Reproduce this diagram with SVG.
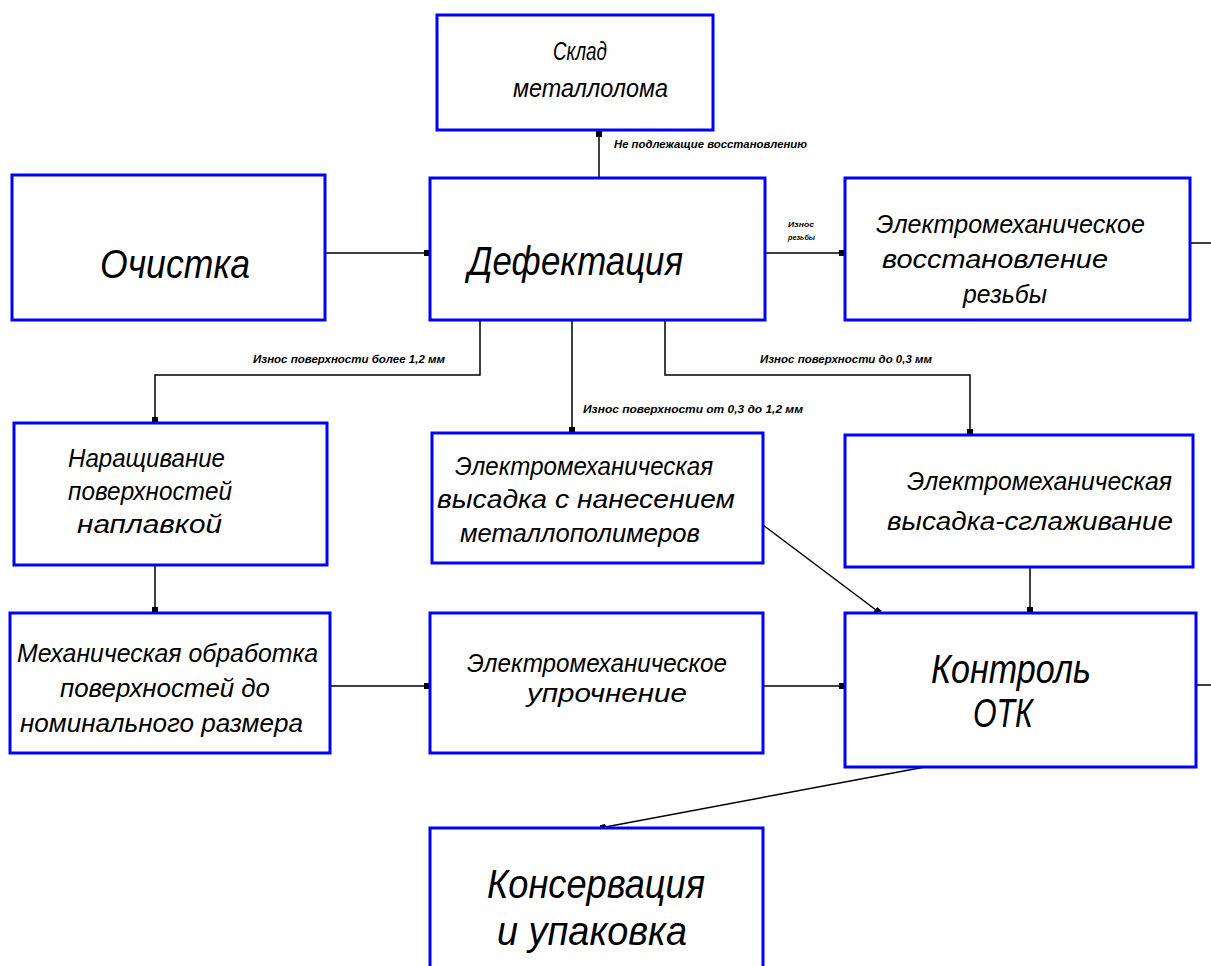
<svg xmlns="http://www.w3.org/2000/svg" width="1211" height="966" viewBox="0 0 1211 966">
<style>
.box{fill:#fff;stroke:#0000ff;stroke-width:3}
.t{font-family:"Liberation Sans",Arial,sans-serif;font-style:italic;fill:#000}
.m{font-size:25px}
.b{font-size:40px}
.s{font-size:10px;font-weight:bold}
.c{fill:none;stroke:#000;stroke-width:1.5}
</style>
<defs>
<marker id="dot" viewBox="0 0 6 6" refX="6" refY="3" markerWidth="6" markerHeight="6" markerUnits="userSpaceOnUse" orient="auto">
<rect x="0" y="0" width="6" height="6" fill="#000"/>
</marker>
</defs>
<rect width="1211" height="966" fill="#fff"/>
<g id="connectors">
<path class="c" d="M325 253 H430" marker-end="url(#dot)"/>
<path class="c" d="M599 178 V131" marker-end="url(#dot)"/>
<path class="c" d="M765 253 H845" marker-end="url(#dot)"/>
<path class="c" d="M480 320 V375 H155 V423" marker-end="url(#dot)"/>
<path class="c" d="M572 320 V433" marker-end="url(#dot)"/>
<path class="c" d="M665 320 V375 H970 V435" marker-end="url(#dot)"/>
<path class="c" d="M155 565 V613" marker-end="url(#dot)"/>
<path class="c" d="M330 686 H430" marker-end="url(#dot)"/>
<path class="c" d="M763 686 H845" marker-end="url(#dot)"/>
<path class="c" d="M763 525 L880 613" marker-end="url(#dot)"/>
<path class="c" d="M1030 567 V613" marker-end="url(#dot)"/>
<path class="c" d="M925 767 L600 828" marker-end="url(#dot)"/>
<path class="c" d="M1190 243 H1211"/>
<path class="c" d="M1196 685 H1211"/>
<text class="t s" x="614" y="148" textLength="193" lengthAdjust="spacingAndGlyphs">Не подлежащие восстановлению</text>
<text class="t s" x="788" y="227" font-size="8" style="font-size:8px" textLength="26" lengthAdjust="spacingAndGlyphs">Износ</text>
<text class="t s" x="788" y="240" style="font-size:8px" textLength="27" lengthAdjust="spacingAndGlyphs">резьбы</text>
<text class="t s" x="253" y="363" textLength="192" lengthAdjust="spacingAndGlyphs">Износ поверхности более 1,2 мм</text>
<text class="t s" x="583" y="413" textLength="220" lengthAdjust="spacingAndGlyphs">Износ поверхности от 0,3 до 1,2 мм</text>
<text class="t s" x="760" y="363" textLength="172" lengthAdjust="spacingAndGlyphs">Износ поверхности до 0,3 мм</text>
</g>
<g id="sklad">
<rect class="box" x="437" y="15" width="276" height="115"/>
<text class="t m" x="553" y="60" textLength="54" lengthAdjust="spacingAndGlyphs">Склад</text>
<text class="t m" x="513" y="97" textLength="155" lengthAdjust="spacingAndGlyphs">металлолома</text>
</g>
<g id="ochistka">
<rect class="box" x="12" y="175" width="313" height="145"/>
<text class="t b" x="100" y="278" textLength="150" lengthAdjust="spacingAndGlyphs">Очистка</text>
</g>
<g id="defektaciya">
<rect class="box" x="430" y="178" width="335" height="142"/>
<text class="t b" x="468" y="275" textLength="215" lengthAdjust="spacingAndGlyphs">Дефектация</text>
</g>
<g id="rezba">
<rect class="box" x="845" y="178" width="345" height="142"/>
<text class="t m" x="876" y="233" textLength="269" lengthAdjust="spacingAndGlyphs">Электромеханическое</text>
<text class="t m" x="882" y="268" textLength="226" lengthAdjust="spacingAndGlyphs">восстановление</text>
<text class="t m" x="963" y="303" textLength="84" lengthAdjust="spacingAndGlyphs">резьбы</text>
</g>
<g id="naraschivanie">
<rect class="box" x="14" y="423" width="313" height="142"/>
<text class="t m" x="68" y="467" textLength="157" lengthAdjust="spacingAndGlyphs">Наращивание</text>
<text class="t m" x="68" y="500" textLength="164" lengthAdjust="spacingAndGlyphs">поверхностей</text>
<text class="t m" x="77" y="533" textLength="145" lengthAdjust="spacingAndGlyphs">наплавкой</text>
</g>
<g id="vysadka-polimery">
<rect class="box" x="432" y="433" width="331" height="130"/>
<text class="t m" x="455" y="475" textLength="258" lengthAdjust="spacingAndGlyphs">Электромеханическая</text>
<text class="t m" x="437" y="508" textLength="298" lengthAdjust="spacingAndGlyphs">высадка с нанесением</text>
<text class="t m" x="460" y="542" textLength="240" lengthAdjust="spacingAndGlyphs">металлополимеров</text>
</g>
<g id="vysadka-sglazhivanie">
<rect class="box" x="845" y="435" width="348" height="132"/>
<text class="t m" x="907" y="490" textLength="265" lengthAdjust="spacingAndGlyphs">Электромеханическая</text>
<text class="t m" x="887" y="530" textLength="286" lengthAdjust="spacingAndGlyphs">высадка-сглаживание</text>
</g>
<g id="mehobrabotka">
<rect class="box" x="10" y="613" width="320" height="140"/>
<text class="t m" x="17" y="662" textLength="301" lengthAdjust="spacingAndGlyphs">Механическая обработка</text>
<text class="t m" x="60" y="697" textLength="210" lengthAdjust="spacingAndGlyphs">поверхностей до</text>
<text class="t m" x="20" y="732" textLength="283" lengthAdjust="spacingAndGlyphs">номинального размера</text>
</g>
<g id="uprochnenie">
<rect class="box" x="430" y="613" width="333" height="140"/>
<text class="t m" x="467" y="672" textLength="260" lengthAdjust="spacingAndGlyphs">Электромеханическое</text>
<text class="t m" x="527" y="702" textLength="160" lengthAdjust="spacingAndGlyphs">упрочнение</text>
</g>
<g id="kontrol">
<rect class="box" x="845" y="613" width="351" height="154"/>
<text class="t b" x="931" y="683" textLength="160" lengthAdjust="spacingAndGlyphs">Контроль</text>
<text class="t b" x="973" y="727" textLength="60" lengthAdjust="spacingAndGlyphs">ОТК</text>
</g>
<g id="konservaciya">
<rect class="box" x="430" y="828" width="333" height="150"/>
<text class="t b" x="487" y="898" textLength="218" lengthAdjust="spacingAndGlyphs">Консервация</text>
<text class="t b" x="497" y="945" textLength="190" lengthAdjust="spacingAndGlyphs">и упаковка</text>
</g>
</svg>
